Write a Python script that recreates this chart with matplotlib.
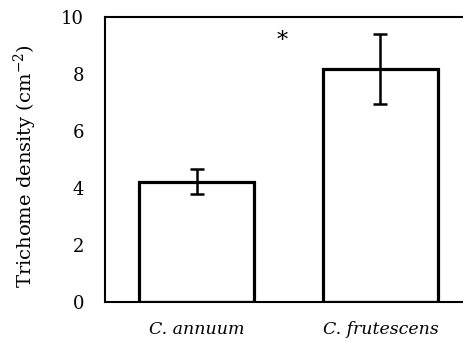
import matplotlib.pyplot as plt

species = ["C. annuum", "C. frutescens"]
density = [4.22, 8.16]
density_err = [0.43, 1.23]
y_ticks = [0, 2, 4, 6, 8, 10]

plt.rcParams['font.family'] = ['DejaVu Serif']
plt.rcParams['mathtext.fontset'] = 'dejavuserif'

fig = plt.figure(figsize=(4.64, 3.44), dpi=100)
ax = fig.add_axes([0.226, 0.122, 0.792, 0.829])

x = list(range(len(species)))
ax.bar(x, density, width=0.625, color='white', edgecolor='black', linewidth=2.3,
       yerr=density_err, error_kw=dict(ecolor='black', elinewidth=1.8, capsize=5, capthick=1.8))

# significance marker
ax.text(0.463, 9.15, "*", ha='center', va='center', fontsize=16)

ax.set_xlim(-0.5, 1.5)
ax.set_ylim(0, 10)
ax.set_yticks(y_ticks)
ax.set_xticks(x)
ax.set_xticklabels(species, fontstyle='italic', fontsize=12.5)
ax.tick_params(axis='y', length=0, pad=15, labelsize=13)
ax.tick_params(axis='x', length=0, pad=14)
ax.set_ylabel("Trichome density (cm$^{-2}$)", fontsize=14)
ax.yaxis.set_label_coords(-0.179, 0.475)

for s in ax.spines.values():
    s.set_linewidth(1.5)

fig.savefig("out.png", dpi=100)
